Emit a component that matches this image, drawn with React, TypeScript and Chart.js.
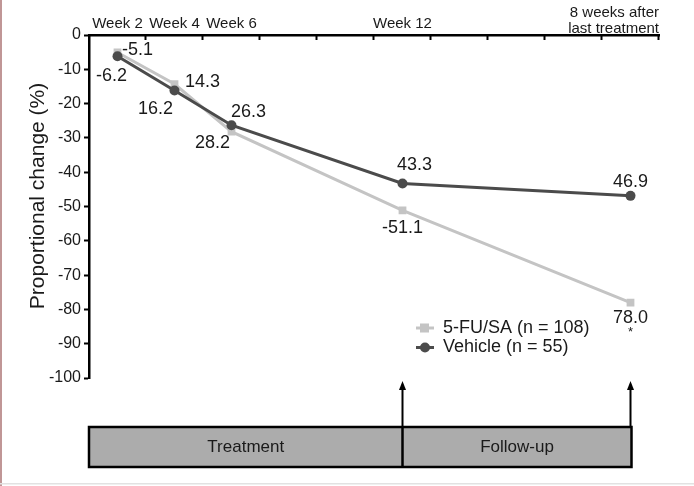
import { useEffect, useRef } from 'react';
import { Chart, registerables } from 'chart.js';

Chart.register(...registerables);

const categories = ['Week 2', 'Week 4', 'Week 6', 'Week 8', 'Week 10', 'Week 12', 'Week 14', 'Week 16', 'Week 18', '8 weeks after last treatment'];
const topLabels: (string | string[])[] = ['Week 2', 'Week 4', 'Week 6', '', '', 'Week 12', '', '', '', ['8 weeks after', 'last treatment']];

const fuValues = [-5.1, -14.3, -28.2, null, null, -51.1, null, null, null, -78.0];
const vehicleValues = [-6.2, -16.2, -26.3, null, null, -43.3, null, null, null, -46.9];

const fuLabels = ['-5.1', '14.3', '28.2', null, null, '-51.1', null, null, null, '78.0'];
const vehicleLabels = ['-6.2', '16.2', '26.3', null, null, '43.3', null, null, null, '46.9'];

const fuName = '5-FU/SA (n = 108)';
const vehicleName = 'Vehicle (n = 55)';

const yMin = -100;
const yMax = 0;
const yStep = 10;

const phaseLabels = ['Treatment', 'Follow-up'];
const phaseSplitIndex = 5;
const phaseEndIndex = 9;

// label placement (pixel offsets of label centres from their points)
const fuOffsets: ([number, number] | null)[] = [[20, -2], [28, -2], [-19, 11], null, null, [0, 18], null, null, null, [0, 15]];
const vehicleOffsets: ([number, number] | null)[] = [[-6, 20], [-19, 18], [17, -13], null, null, [12, -18], null, null, null, [0, -14]];

const FONT = '"Liberation Sans", Arial, Helvetica, sans-serif';
const FU_COLOR = '#c4c4c4';
const VEH_COLOR = '#4b4b4b';
const TEXT = '#1a1a1a';

const customPlugin = {
  id: 'customDraw',
  beforeDraw(chart: any) {
    const ctx = chart.ctx;
    ctx.save();
    ctx.fillStyle = '#ffffff';
    ctx.fillRect(0, 0, chart.width, chart.height);
    ctx.fillStyle = '#c09696';
    ctx.fillRect(0, 0, 2, chart.height);
    ctx.fillStyle = '#e2e2e2';
    ctx.fillRect(0, 483, chart.width, 1.5);
    ctx.restore();
  },
  afterDraw(chart: any) {
    const ctx = chart.ctx;
    const area = chart.chartArea;
    const xs = chart.scales.x;
    ctx.save();

    // inward tick marks on top axis
    ctx.strokeStyle = '#000';
    ctx.lineWidth = 2;
    for (let i = 1; i <= categories.length; i++) {
      const px = Math.round(xs.getPixelForValue(i - 0.5)) - 0.5;
      ctx.beginPath();
      ctx.moveTo(px, area.top);
      ctx.lineTo(px, area.top + 5);
      ctx.stroke();
    }

    // top labels
    ctx.fillStyle = TEXT;
    ctx.font = `15px ${FONT}`;
    ctx.textBaseline = 'alphabetic';
    topLabels.forEach((lab, i) => {
      if (!lab) return;
      if (Array.isArray(lab)) {
        ctx.textAlign = 'right';
        ctx.fillText(lab[0], area.right, 16.5);
        ctx.fillText(lab[1], area.right, 33);
      } else {
        ctx.textAlign = 'center';
        ctx.fillText(lab, xs.getPixelForValue(i), 28);
      }
    });

    // y title
    ctx.save();
    ctx.translate(38, 196);
    ctx.rotate(-Math.PI / 2);
    ctx.font = `21px ${FONT}`;
    ctx.textAlign = 'center';
    ctx.textBaseline = 'middle';
    ctx.fillText('Proportional change (%)', 0, 0);
    ctx.restore();

    // data labels
    const drawLabels = (dsIndex: number, labels: (string | null)[], offs: ([number, number] | null)[]) => {
      const meta = chart.getDatasetMeta(dsIndex);
      ctx.font = `18px ${FONT}`;
      ctx.textAlign = 'center';
      ctx.textBaseline = 'middle';
      ctx.fillStyle = TEXT;
      labels.forEach((t, i) => {
        const o = offs[i];
        if (!t || !o) return;
        const el = meta.data[i];
        ctx.fillText(t, el.x + o[0], el.y + o[1]);
      });
    };
    drawLabels(0, fuLabels, fuOffsets);
    drawLabels(1, vehicleLabels, vehicleOffsets);
    // asterisk under last 5-FU label
    {
      const el = chart.getDatasetMeta(0).data[phaseEndIndex];
      ctx.font = `13px ${FONT}`;
      ctx.fillText('*', el.x, el.y + 30);
    }

    // legend
    const legendItems = [
      { name: fuName, color: FU_COLOR, style: 'rect' },
      { name: vehicleName, color: VEH_COLOR, style: 'circle' },
    ];
    legendItems.forEach((it, k) => {
      const ly = 328 + k * 19.5;
      ctx.strokeStyle = it.color;
      ctx.fillStyle = it.color;
      ctx.lineWidth = 3;
      ctx.beginPath();
      ctx.moveTo(416, ly);
      ctx.lineTo(434, ly);
      ctx.stroke();
      if (it.style === 'rect') {
        ctx.fillRect(420, ly - 4.5, 9, 9);
      } else {
        ctx.beginPath();
        ctx.arc(425, ly, 5, 0, Math.PI * 2);
        ctx.fill();
      }
      ctx.fillStyle = TEXT;
      ctx.font = `18px ${FONT}`;
      ctx.textAlign = 'left';
      ctx.textBaseline = 'middle';
      ctx.fillText(it.name, 443, ly);
    });

    // phase box
    const bx0 = area.left;
    const bxMid = xs.getPixelForValue(phaseSplitIndex);
    const bx1 = xs.getPixelForValue(phaseEndIndex) + 1;
    const by0 = 427;
    const by1 = 467;
    ctx.fillStyle = '#acacac';
    ctx.fillRect(bx0, by0, bx1 - bx0, by1 - by0);
    ctx.strokeStyle = '#000';
    ctx.lineWidth = 2.5;
    ctx.strokeRect(bx0, by0, bx1 - bx0, by1 - by0);
    ctx.beginPath();
    ctx.moveTo(bxMid, by0);
    ctx.lineTo(bxMid, by1);
    ctx.stroke();

    // arrows
    [bxMid, bx1 - 1].forEach((ax) => {
      ctx.strokeStyle = '#000';
      ctx.lineWidth = 2;
      ctx.beginPath();
      ctx.moveTo(ax, by0);
      ctx.lineTo(ax, 388);
      ctx.stroke();
      ctx.fillStyle = '#000';
      ctx.beginPath();
      ctx.moveTo(ax, 381);
      ctx.lineTo(ax - 3.5, 390);
      ctx.lineTo(ax + 3.5, 390);
      ctx.closePath();
      ctx.fill();
    });

    ctx.fillStyle = TEXT;
    ctx.font = `17px ${FONT}`;
    ctx.textAlign = 'center';
    ctx.textBaseline = 'middle';
    ctx.fillText(phaseLabels[0], (bx0 + bxMid) / 2, (by0 + by1) / 2);
    ctx.fillText(phaseLabels[1], (bxMid + bx1) / 2, (by0 + by1) / 2);

    ctx.restore();
  },
};

export default function App() {
  const ref = useRef<HTMLCanvasElement | null>(null);

  useEffect(() => {
    document.body.style.margin = '0';
    const canvas = ref.current;
    if (!canvas) return;
    const chart = new Chart(canvas, {
      type: 'line',
      data: {
        labels: categories,
        datasets: [
          {
            label: fuName,
            data: fuValues,
            borderColor: FU_COLOR,
            backgroundColor: FU_COLOR,
            borderWidth: 3,
            pointStyle: 'rect',
            pointRadius: 5.5,
            pointBorderWidth: 0,
            spanGaps: true,
            order: 1,
          },
          {
            label: vehicleName,
            data: vehicleValues,
            borderColor: VEH_COLOR,
            backgroundColor: VEH_COLOR,
            borderWidth: 3,
            pointStyle: 'circle',
            pointRadius: 5,
            pointBorderWidth: 0,
            spanGaps: true,
            order: 0,
          },
        ],
      },
      options: {
        animation: false,
        responsive: false,
        layout: { padding: { left: 0, right: 35, top: 0, bottom: 108 } },
        plugins: {
          legend: { display: false },
          tooltip: { enabled: false },
          title: { display: false },
        },
        scales: {
          x: {
            type: 'category',
            position: 'top',
            offset: true,
            ticks: { display: false },
            grid: { display: true, drawOnChartArea: false, drawTicks: false, offset: true },
            border: { display: true, color: '#000', width: 2.5 },
            afterFit: (s: any) => {
              s.height = 35;
            },
          },
          y: {
            min: yMin,
            max: yMax,
            ticks: {
              stepSize: yStep,
              color: TEXT,
              font: { family: FONT, size: 16 },
              padding: 3,
            },
            grid: { display: true, drawOnChartArea: false, drawTicks: true, tickLength: 5, tickColor: '#000', tickWidth: 2 },
            border: { display: true, color: '#000', width: 2.5 },
            afterFit: (s: any) => {
              s.width = 89;
              s.paddingTop = 0;
              s.paddingBottom = 0;
            },
          },
        },
      },
      plugins: [customPlugin],
    } as any);
    return () => chart.destroy();
  }, []);

  return (
    <div style={{ position: 'relative', width: 694, height: 486 }}>
      <canvas ref={ref} width={694} height={486} style={{ display: 'block' }} />
    </div>
  );
}
